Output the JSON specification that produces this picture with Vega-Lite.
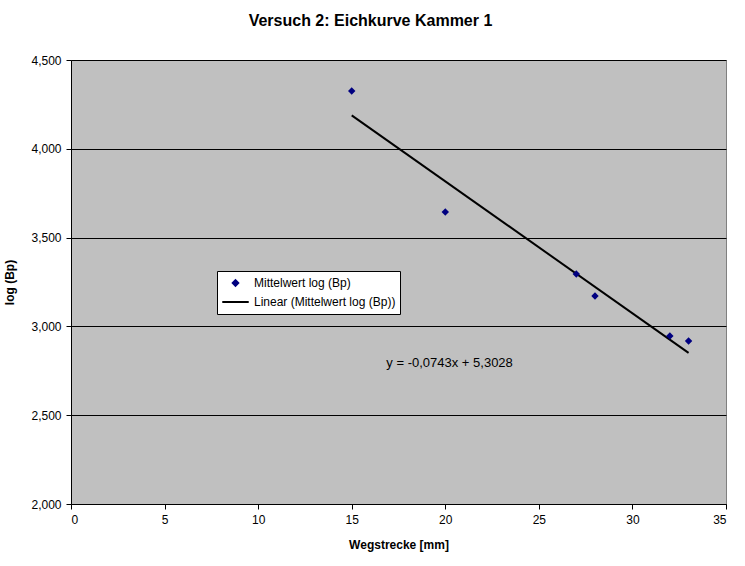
{
  "$schema": "https://vega.github.io/schema/vega-lite/v6.json",
  "width": 655,
  "height": 444,
  "autosize": {"type": "none"},
  "padding": {"left": 71, "top": 60, "right": 19, "bottom": 62},
  "background": "white",
  "view": {"fill": "#C0C0C0", "stroke": "#808080", "strokeWidth": 1},
  "title": {"text": "Versuch 2: Eichkurve Kammer 1", "font": "Liberation Sans", "fontSize": 16, "fontWeight": "bold", "color": "black", "offset": 25, "anchor": "middle", "dx": -28},
  "config": {
    "axis": {"labelFont": "Liberation Sans", "titleFont": "Liberation Sans", "labelFontSize": 12, "titleFontSize": 12, "titleFontWeight": "bold", "labelColor": "black", "titleColor": "black", "domainColor": "black", "tickColor": "black", "tickSize": 5, "labelPadding": 5},
    "legend": {"title": null, "orient": "none", "legendX": 146, "legendY": 211, "fillColor": "white", "strokeColor": "black", "padding": 4, "labelFont": "Liberation Sans", "labelFontSize": 12, "labelColor": "black", "symbolStrokeWidth": 2, "rowPadding": 3, "clipHeight": 16, "symbolOpacity": 1, "labelOffset": 4}
  },
  "datasets": {
    "points": [
      {"x": 15, "y": 4.325, "series": "Mittelwert log (Bp)"},
      {"x": 20, "y": 3.644, "series": "Mittelwert log (Bp)"},
      {"x": 27, "y": 3.295, "series": "Mittelwert log (Bp)"},
      {"x": 28, "y": 3.171, "series": "Mittelwert log (Bp)"},
      {"x": 32, "y": 2.946, "series": "Mittelwert log (Bp)"},
      {"x": 33, "y": 2.918, "series": "Mittelwert log (Bp)"}
    ],
    "trend": [
      {"x": 15, "y": 4.1883, "series": "Linear (Mittelwert log (Bp))"},
      {"x": 33, "y": 2.8509, "series": "Linear (Mittelwert log (Bp))"}
    ],
    "eq": [
      {"x": 16.85, "y": 2.794, "label": "y = -0,0743x + 5,3028"}
    ]
  },
  "layer": [
    {
      "data": {"name": "trend"},
      "mark": {"type": "line", "color": "black", "strokeWidth": 2},
      "encoding": {
        "x": {"field": "x", "type": "quantitative", "scale": {"domain": [0, 35], "nice": false}, "axis": {"title": "Wegstrecke [mm]", "values": [0, 5, 10, 15, 20, 25, 30, 35], "grid": false, "titlePadding": 14}},
        "y": {"field": "y", "type": "quantitative", "scale": {"domain": [2, 4.5], "nice": false, "zero": false}, "axis": {"title": "log (Bp)", "values": [2, 2.5, 3, 3.5, 4, 4.5], "labelExpr": "replace(format(datum.value, '.3f'), '.', ',')", "grid": true, "gridColor": "black", "gridOpacity": 1, "titlePadding": 14}},
        "color": {"field": "series", "type": "nominal", "scale": {"domain": ["Mittelwert log (Bp)", "Linear (Mittelwert log (Bp))"], "range": ["#000080", "black"]}, "legend": {}}
      }
    },
    {
      "data": {"name": "points"},
      "mark": {"type": "point", "shape": "diamond", "filled": true, "size": 55, "opacity": 1, "color": "#000080"},
      "encoding": {
        "x": {"field": "x", "type": "quantitative"},
        "y": {"field": "y", "type": "quantitative"}
      }
    },
    {
      "data": {"name": "eq"},
      "mark": {"type": "text", "align": "left", "baseline": "middle", "font": "Liberation Sans", "fontSize": 13, "color": "black"},
      "encoding": {
        "x": {"field": "x", "type": "quantitative"},
        "y": {"field": "y", "type": "quantitative"},
        "text": {"field": "label"}
      }
    },
    {
      "data": {"values": [
        {"series": "Mittelwert log (Bp)"},
        {"series": "Linear (Mittelwert log (Bp))"}
      ]},
      "mark": {"type": "point", "opacity": 0, "filled": true},
      "encoding": {
        "shape": {"field": "series", "type": "nominal", "scale": {"domain": ["Mittelwert log (Bp)", "Linear (Mittelwert log (Bp))"], "range": ["diamond", "stroke"]}, "legend": {}},
        "size": {"field": "series", "type": "nominal", "scale": {"domain": ["Mittelwert log (Bp)", "Linear (Mittelwert log (Bp))"], "range": [30, 700]}, "legend": {}},
        "color": {"field": "series", "type": "nominal"}
      }
    }
  ]
}
